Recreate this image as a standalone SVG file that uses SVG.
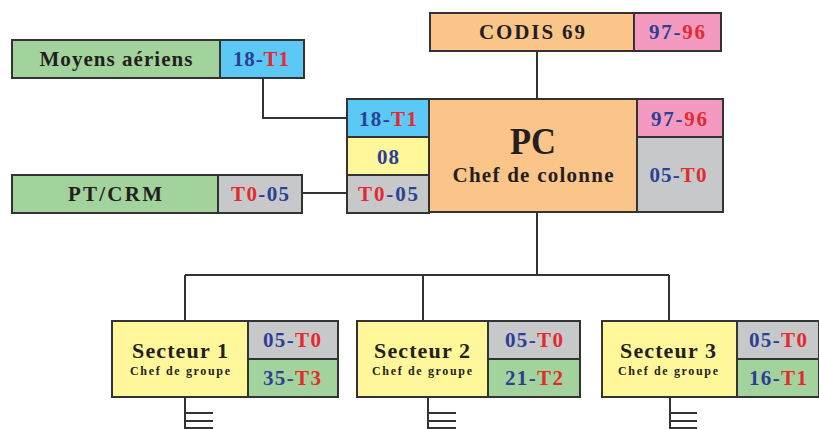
<svg xmlns="http://www.w3.org/2000/svg" width="819" height="429" viewBox="0 0 819 429">
<style>
rect{stroke:#333;stroke-width:2}
.g{fill:#a3d39c}.b{fill:#5bc8f5}.y{fill:#fff799}.o{fill:#fbc58a}.p{fill:#f49ac1}.gr{fill:#c7c8ca}
text{font-family:'Liberation Serif','DejaVu Serif',serif;font-weight:bold;text-anchor:middle;fill:#231f20;font-size:21px}
.bl{fill:#2b3f96}.r{fill:#e42a2f}
.s{font-size:12px}
.conn{fill:none;stroke:#333;stroke-width:2}
</style>
<g id="connectors" class="conn">
<path d="M263 78V118H347"/>
<path d="M302 193H347"/>
<path d="M537 51V99"/>
<path d="M537 212V275M185 275H669M185 275V321M423 275V321M669 275V321"/>
<path d="M185 397V429M185 413H213M185 421H213M185 428H213"/>
<path d="M428 397V429M428 413H456M428 421H456M428 428H456"/>
<path d="M670 397V429M670 413H697M670 421H697M670 428H697"/>
</g>
<g id="moyens">
<rect class="g" x="12" y="40" width="208" height="38"/>
<rect class="b" x="220" y="40" width="84" height="38"/>
<text x="116" y="66" textLength="153" lengthAdjust="spacing">Moyens aériens</text>
<text x="261" y="66" textLength="56" lengthAdjust="spacing"><tspan class="bl">18-</tspan><tspan class="r">T1</tspan></text>
</g>
<g id="ptcrm">
<rect class="g" x="12" y="175" width="206" height="38"/>
<rect class="gr" x="218" y="175" width="84" height="38"/>
<text x="115" y="201" textLength="94" lengthAdjust="spacing">PT/CRM</text>
<text x="260" y="201" textLength="58" lengthAdjust="spacing"><tspan class="r">T0</tspan><tspan class="bl">-05</tspan></text>
</g>
<g id="codis">
<rect class="o" x="430" y="13" width="204" height="38"/>
<rect class="p" x="634" y="13" width="87" height="38"/>
<text x="532" y="39" textLength="106" lengthAdjust="spacing">CODIS 69</text>
<text x="677" y="39" textLength="56" lengthAdjust="spacing"><tspan class="bl">97-</tspan><tspan class="r">96</tspan></text>
</g>
<g id="pc">
<rect class="o" x="429" y="99" width="208" height="113"/>
<rect class="b" x="347" y="99" width="82" height="38"/>
<rect class="y" x="347" y="137" width="82" height="38"/>
<rect class="gr" x="347" y="175" width="82" height="38"/>
<rect class="p" x="637" y="99" width="86" height="38"/>
<rect class="gr" x="637" y="137" width="86" height="75"/>
<text x="533" y="154" style="font-size:37px" textLength="46" lengthAdjust="spacingAndGlyphs">PC</text>
<text x="533" y="182" textLength="161" lengthAdjust="spacing">Chef de colonne</text>
<text x="388" y="126" textLength="58" lengthAdjust="spacing"><tspan class="bl">18-</tspan><tspan class="r">T1</tspan></text>
<text class="bl" x="388" y="164" textLength="22" lengthAdjust="spacing">08</text>
<text x="388" y="201" textLength="60" lengthAdjust="spacing"><tspan class="r">T0</tspan><tspan class="bl">-05</tspan></text>
<text x="679" y="126" textLength="56" lengthAdjust="spacing"><tspan class="bl">97-</tspan><tspan class="r">96</tspan></text>
<text x="678" y="182" textLength="57" lengthAdjust="spacing"><tspan class="bl">05-</tspan><tspan class="r">T0</tspan></text>
</g>
<g id="secteur1">
<rect class="y" x="112" y="321" width="136" height="76"/>
<rect class="gr" x="248" y="321" width="90" height="38"/>
<rect class="g" x="248" y="359" width="90" height="38"/>
<text x="180" y="358" style="font-size:22px" textLength="96" lengthAdjust="spacing">Secteur 1</text>
<text class="s" x="180" y="375" textLength="100" lengthAdjust="spacing">Chef de groupe</text>
<text x="292" y="347" textLength="58" lengthAdjust="spacing"><tspan class="bl">05-</tspan><tspan class="r">T0</tspan></text>
<text x="292" y="385" textLength="58" lengthAdjust="spacing"><tspan class="bl">35-</tspan><tspan class="r">T3</tspan></text>
</g>
<g id="secteur2">
<rect class="y" x="357" y="321" width="131" height="76"/>
<rect class="gr" x="488" y="321" width="92" height="38"/>
<rect class="g" x="488" y="359" width="92" height="38"/>
<text x="422" y="358" style="font-size:22px" textLength="96" lengthAdjust="spacing">Secteur 2</text>
<text class="s" x="422" y="375" textLength="100" lengthAdjust="spacing">Chef de groupe</text>
<text x="534" y="347" textLength="58" lengthAdjust="spacing"><tspan class="bl">05-</tspan><tspan class="r">T0</tspan></text>
<text x="534" y="385" textLength="58" lengthAdjust="spacing"><tspan class="bl">21-</tspan><tspan class="r">T2</tspan></text>
</g>
<g id="secteur3">
<rect class="y" x="602" y="321" width="135" height="76"/>
<rect class="gr" x="737" y="321" width="82" height="38"/>
<rect class="g" x="737" y="359" width="82" height="38"/>
<text x="668" y="358" style="font-size:22px" textLength="96" lengthAdjust="spacing">Secteur 3</text>
<text class="s" x="668" y="375" textLength="100" lengthAdjust="spacing">Chef de groupe</text>
<text x="778" y="347" textLength="58" lengthAdjust="spacing"><tspan class="bl">05-</tspan><tspan class="r">T0</tspan></text>
<text x="778" y="385" textLength="58" lengthAdjust="spacing"><tspan class="bl">16-</tspan><tspan class="r">T1</tspan></text>
</g>
</svg>
